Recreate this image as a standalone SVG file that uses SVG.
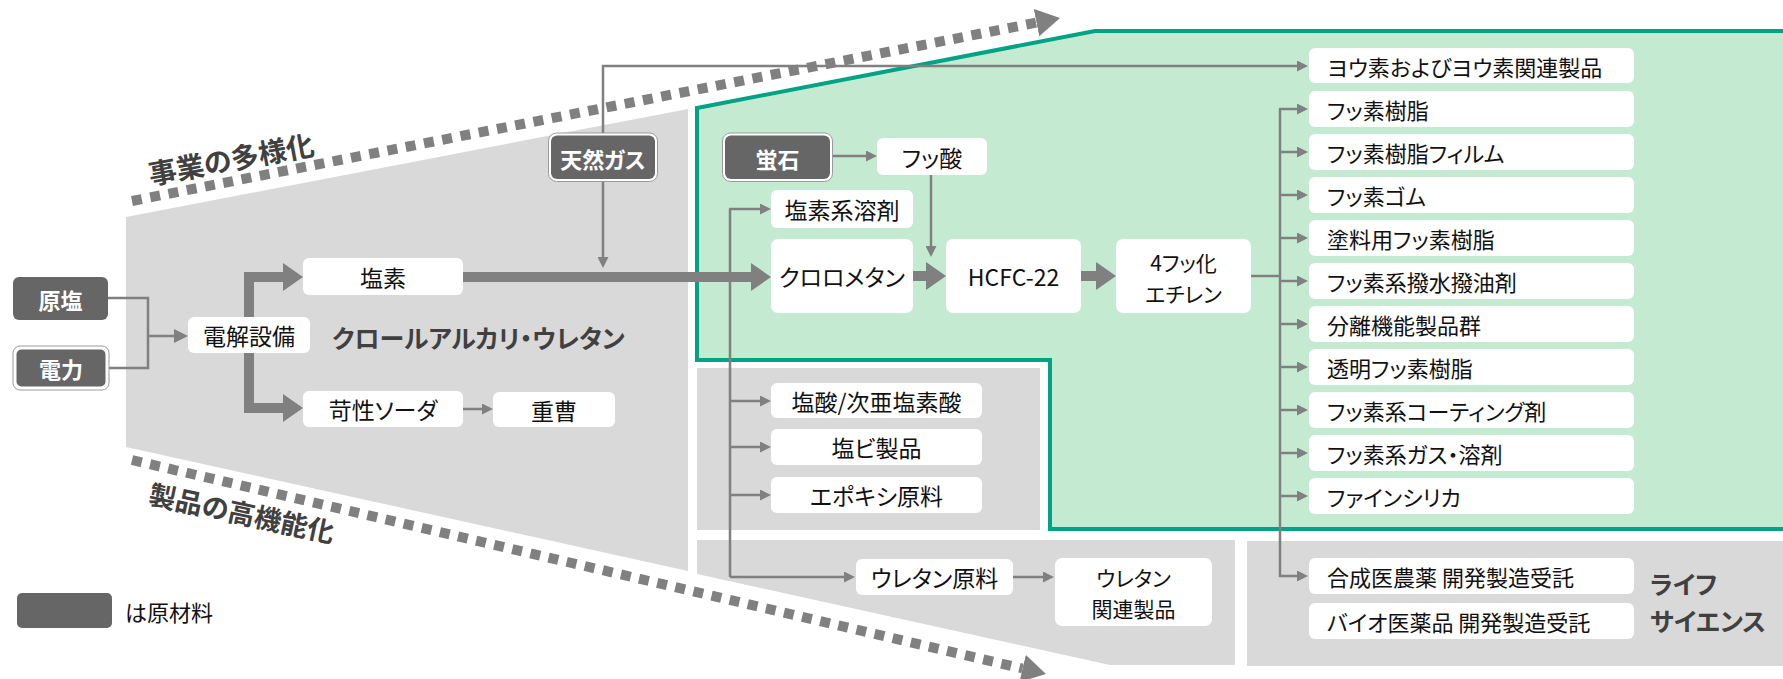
<svg xmlns="http://www.w3.org/2000/svg" width="1783" height="679" viewBox="0 0 1783 679">
<style>
text{font-family:"Noto Sans CJK JP","Noto Sans",sans-serif;font-feature-settings:"palt" 1;dominant-baseline:central}
.t{font-size:23px;fill:#111;text-anchor:middle}
.t2{font-size:21px;fill:#111;text-anchor:middle}
.tl{font-size:22px;fill:#111;text-anchor:start}
.rt{font-size:22px;fill:#fff;font-weight:bold;text-anchor:middle}
.hd{font-weight:bold;fill:#404040}
.box{fill:#fff}
.raw{fill:#666}
.rawo{fill:#fff;stroke:#9a9a9a;stroke-width:1}
.bg{fill:#d9d9d9}
.ln{stroke:#808080;stroke-width:2.5;fill:none;marker-end:url(#a)}
.ln0{stroke:#808080;stroke-width:2.5;fill:none}
.th{stroke:#808080;stroke-width:10;fill:none;stroke-linejoin:miter;marker-end:url(#ta)}
.dash{stroke:#808080;stroke-width:10;fill:none;stroke-dasharray:10 8.6;marker-end:url(#da)}
</style>
<defs>
<marker id="a" markerUnits="userSpaceOnUse" markerWidth="11" markerHeight="11" viewBox="0 0 11 11" refX="0" refY="5.5" orient="auto"><path d="M0,0 L11,5.5 L0,11 z" fill="#808080"/></marker>
<marker id="a2" markerUnits="userSpaceOnUse" markerWidth="14" markerHeight="14" viewBox="0 0 14 14" refX="0" refY="7" orient="auto"><path d="M0,0 L14,7 L0,14 z" fill="#808080"/></marker>
<marker id="ta" markerUnits="userSpaceOnUse" markerWidth="20" markerHeight="28" viewBox="0 0 20 28" refX="0" refY="14" orient="auto"><path d="M0,0 L20,14 L0,28 z" fill="#808080"/></marker>
<marker id="da" markerUnits="userSpaceOnUse" markerWidth="24" markerHeight="28" viewBox="0 0 24 28" refX="0" refY="14" orient="auto"><path d="M0,0 L24,14 L0,28 z" fill="#808080"/></marker>
</defs>
<rect width="1783" height="679" fill="#fff"/>
<g id="backgrounds">
<polygon class="bg" points="126,217 688,109 688,571 126,447"/>
<rect class="bg" x="697" y="368" width="343" height="162"/>
<polygon class="bg" points="697,540 1235,540 1235,665 1110,665 697,574"/>
<rect class="bg" x="1247" y="541" width="536" height="125"/>
<polygon points="697,108 1095,31 1790,31 1790,529 1050,529 1050,360 697,360" fill="#c4ebd1" stroke="#00a386" stroke-width="4"/>
</g>
<g id="trend-arrows">
<path class="dash" d="M132,201 L1036.5,22.6"/>
<path class="dash" d="M132,460 L1022.6,668.5"/>
<text class="hd" font-size="28" text-anchor="middle" transform="translate(231,158) rotate(-10.5)">事業の多様化</text>
<text class="hd" font-size="27" text-anchor="middle" transform="translate(242,512) rotate(12)">製品の高機能化</text>
</g>
<g id="labels">
<text class="hd" font-size="25" x="332" y="337">クロールアルカリ・ウレタン</text>
<text class="hd" font-size="25" x="1650" y="583">ライフ</text>
<text class="hd" font-size="25" x="1650" y="620">サイエンス</text>
</g>
<g id="connectors">
<path class="ln0" d="M108,298 H148 V368 H109"/>
<path d="M148,336 H174" stroke="#808080" stroke-width="2.5" fill="none" marker-end="url(#a2)"/>
<path class="th" d="M249,340 V277 H283"/>
<path class="th" d="M249,330 V408 H283"/>
<path class="ln" d="M463,409 H482"/>
<path class="th" d="M463,277 H751"/>
<path class="ln" d="M603,182 V257"/>
<path class="ln" d="M603,133 V66 H1297"/>
<path class="ln" d="M833,156 H866"/>
<path class="ln" d="M931,175 V246"/>
<path class="ln0" d="M730,209 V577"/>
<path class="ln" d="M729,209 H760"/>
<path class="ln" d="M729,401 H760"/>
<path class="ln" d="M729,447 H760"/>
<path class="ln" d="M729,495 H760"/>
<path class="ln" d="M730,577 H844"/>
<path class="ln" d="M1013,577 H1043"/>
<path class="th" d="M913,276 H926"/>
<path class="th" d="M1081,276 H1096"/>
<path class="ln0" d="M1251,276 H1280"/>
<path class="ln0" d="M1280,109 V577"/>
<path class="ln" d="M1279,109 H1297"/>
<path class="ln" d="M1279,152 H1297"/>
<path class="ln" d="M1279,195 H1297"/>
<path class="ln" d="M1279,238 H1297"/>
<path class="ln" d="M1279,281 H1297"/>
<path class="ln" d="M1279,324 H1297"/>
<path class="ln" d="M1279,367 H1297"/>
<path class="ln" d="M1279,410 H1297"/>
<path class="ln" d="M1279,453 H1297"/>
<path class="ln" d="M1279,496 H1297"/>
<path class="ln" d="M1279,576 H1297"/>
</g>
<g id="n-genen"><rect class="raw" x="13" y="277" width="95" height="43" rx="6"/><text class="rt" x="60.5" y="298.5">原塩</text></g>
<g id="n-denryoku"><rect class="rawo" x="13" y="346" width="96" height="44" rx="7" stroke="#7f7f7f" stroke-width="1.5"/><rect class="raw" x="16.5" y="349.5" width="89" height="37" rx="5"/><text class="rt" x="61" y="368">電力</text></g>
<g id="n-denkai"><rect class="box" x="188" y="317" width="122" height="36" rx="6"/><text class="t" x="249" y="335">電解設備</text></g>
<g id="n-enso"><rect class="box" x="303" y="258" width="160" height="37" rx="6"/><text class="t" x="383" y="276.5">塩素</text></g>
<g id="n-kasei"><rect class="box" x="303" y="391" width="160" height="36" rx="6"/><text class="t" x="383" y="409">苛性ソーダ</text></g>
<g id="n-juso"><rect class="box" x="493" y="392" width="122" height="35" rx="6"/><text class="t" x="554" y="409.5">重曹</text></g>
<g id="n-tennengas"><rect class="rawo" x="548.5" y="133" width="109" height="48.5" rx="8"/><rect class="raw" x="551" y="135.5" width="104" height="43.5" rx="6"/><text class="rt" x="603" y="157.5">天然ガス</text></g>
<g id="n-hotaruishi"><rect class="rawo" x="722.5" y="133" width="110" height="48.5" rx="8"/><rect class="raw" x="725" y="135.5" width="105" height="43.5" rx="6"/><text class="rt" x="777.5" y="157.5">蛍石</text></g>
<g id="n-fussan"><rect class="box" x="877" y="138" width="110" height="37" rx="6"/><text class="t" x="932" y="156.5">フッ酸</text></g>
<g id="n-ensokei"><rect class="box" x="771" y="190" width="142" height="38" rx="6"/><text class="t" x="842" y="209">塩素系溶剤</text></g>
<g id="n-chloromethane"><rect class="box" x="771" y="239" width="142" height="74" rx="7"/><text class="t" x="842" y="276">クロロメタン</text></g>
<g id="n-hcfc"><rect class="box" x="946" y="239" width="135" height="74" rx="7"/><text class="t" x="1013.5" y="276">HCFC-22</text></g>
<g id="n-tfe"><rect class="box" x="1116" y="239" width="135" height="74" rx="7"/><text class="t2" x="1183.5" y="261.5">4フッ化</text><text class="t2" x="1183.5" y="292.5">エチレン</text></g>
<g id="n-ensan"><rect class="box" x="771" y="383" width="211" height="35" rx="6"/><text class="t" x="876.5" y="400.5">塩酸/次亜塩素酸</text></g>
<g id="n-enbi"><rect class="box" x="771" y="429" width="211" height="36" rx="6"/><text class="t" x="876.5" y="447">塩ビ製品</text></g>
<g id="n-epoxy"><rect class="box" x="771" y="477" width="211" height="36" rx="6"/><text class="t" x="876.5" y="495">エポキシ原料</text></g>
<g id="n-urethane-raw"><rect class="box" x="856" y="559" width="157" height="36" rx="6"/><text class="t" x="934.5" y="577">ウレタン原料</text></g>
<g id="n-urethane-prod"><rect class="box" x="1055" y="558" width="157" height="68" rx="7"/><text class="t2" x="1133.5" y="576.5">ウレタン</text><text class="t2" x="1133.5" y="607.5">関連製品</text></g>
<g id="n-iodine"><rect class="box" x="1309" y="48" width="325" height="35" rx="6"/><text class="tl" x="1327" y="65.5">ヨウ素およびヨウ素関連製品</text></g>
<g id="n-r1"><rect class="box" x="1309" y="91" width="325" height="36" rx="6"/><text class="tl" x="1327" y="109">フッ素樹脂</text></g>
<g id="n-r2"><rect class="box" x="1309" y="134" width="325" height="36" rx="6"/><text class="tl" x="1327" y="152">フッ素樹脂フィルム</text></g>
<g id="n-r3"><rect class="box" x="1309" y="177" width="325" height="36" rx="6"/><text class="tl" x="1327" y="195">フッ素ゴム</text></g>
<g id="n-r4"><rect class="box" x="1309" y="220" width="325" height="36" rx="6"/><text class="tl" x="1327" y="238">塗料用フッ素樹脂</text></g>
<g id="n-r5"><rect class="box" x="1309" y="263" width="325" height="36" rx="6"/><text class="tl" x="1327" y="281">フッ素系撥水撥油剤</text></g>
<g id="n-r6"><rect class="box" x="1309" y="306" width="325" height="36" rx="6"/><text class="tl" x="1327" y="324">分離機能製品群</text></g>
<g id="n-r7"><rect class="box" x="1309" y="349" width="325" height="36" rx="6"/><text class="tl" x="1327" y="367">透明フッ素樹脂</text></g>
<g id="n-r8"><rect class="box" x="1309" y="392" width="325" height="36" rx="6"/><text class="tl" x="1327" y="410">フッ素系コーティング剤</text></g>
<g id="n-r9"><rect class="box" x="1309" y="435" width="325" height="36" rx="6"/><text class="tl" x="1327" y="453">フッ素系ガス・溶剤</text></g>
<g id="n-r10"><rect class="box" x="1309" y="478" width="325" height="36" rx="6"/><text class="tl" x="1327" y="496">ファインシリカ</text></g>
<g id="n-ls1"><rect class="box" x="1309" y="558" width="325" height="36" rx="6"/><text class="tl" x="1327" y="576">合成医農薬 開発製造受託</text></g>
<g id="n-ls2"><rect class="box" x="1309" y="603" width="325" height="36" rx="6"/><text class="tl" x="1327" y="621">バイオ医薬品 開発製造受託</text></g>
<g id="legend"><rect class="raw" x="17" y="593" width="95" height="35" rx="5"/><text class="tl" x="125" y="610.5">は原材料</text></g>
</svg>
